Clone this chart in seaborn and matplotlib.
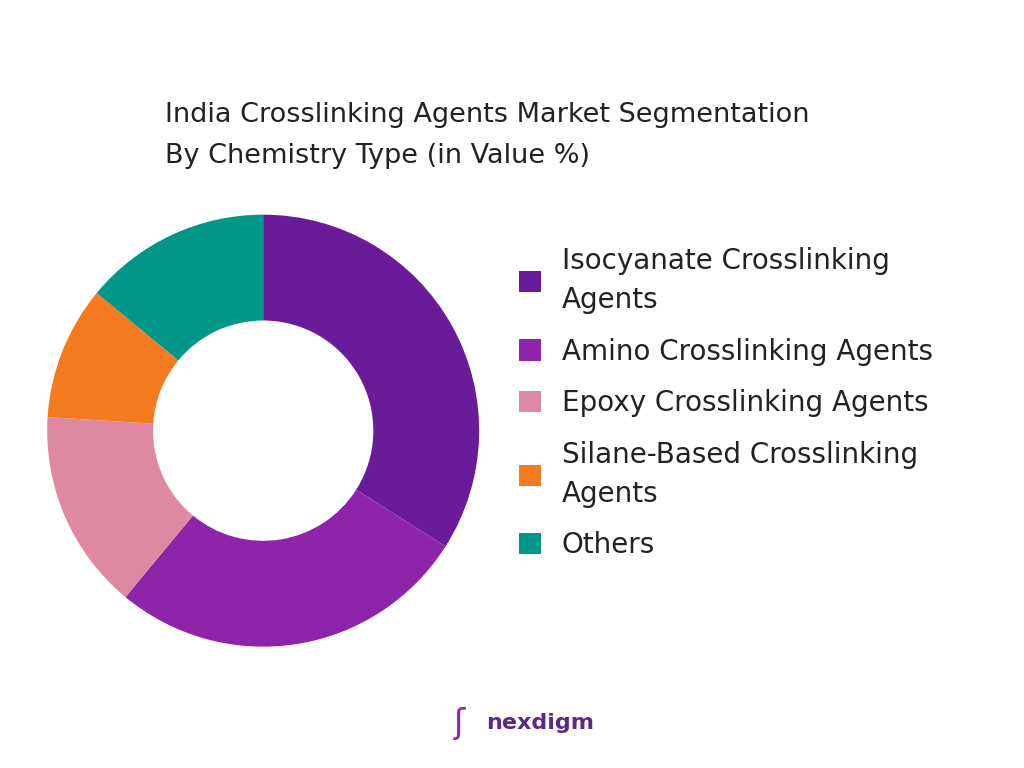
import matplotlib
matplotlib.use("Agg")
import matplotlib.pyplot as plt
import seaborn as sns
from matplotlib.patches import Patch

sns.set_theme(style="white")
plt.rcParams['font.family'] = ['DejaVu Sans']

labels = ["Isocyanate Crosslinking\nAgents", "Amino Crosslinking Agents",
          "Epoxy Crosslinking Agents", "Silane-Based Crosslinking\nAgents", "Others"]
values = [34, 27, 15, 10, 14]
colors = ["#6A1B9A", "#8E24AA", "#DE89A1", "#F47B20", "#009688"]

fig = plt.figure(figsize=(10.24, 7.68), dpi=100)
ax = fig.add_axes([0.046, 0.158, 0.422, 0.5625])
ax.pie(values, colors=colors, startangle=90, counterclock=False,
       wedgeprops=dict(width=0.49, edgecolor="none"))
ax.set_xlim(-1, 1)
ax.set_ylim(-1, 1)
ax.set_aspect("equal")

fig.text(0.161, 0.823, "India Crosslinking Agents Market Segmentation\nBy Chemistry Type (in Value %)",
         fontsize=19.5, color="#222222", va="center", linespacing=1.75)

handles = [Patch(facecolor=c, edgecolor="none") for c in colors]
leg = fig.legend(handles, labels, loc="center left", bbox_to_anchor=(0.482, 0.475),
           frameon=False, fontsize=20, labelspacing=0.85, handlelength=0.8,
           handleheight=0.8, handletextpad=0.75, labelcolor="#222222")
for t in leg.get_texts():
    t.set_linespacing(1.5)

fig.text(0.475, 0.058, "nexdigm", fontsize=16, color="#5B2A86", fontweight="bold", va="center")
fig.text(0.443, 0.058, "ʃ", fontsize=24, color="#8E24AA", va="center")

fig.savefig("out.png", dpi=100, facecolor="white")
